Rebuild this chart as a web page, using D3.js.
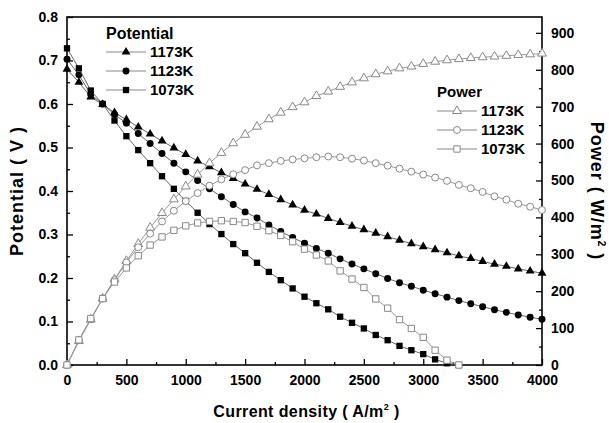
<!DOCTYPE html>
<html>
<head>
<meta charset="utf-8">
<script src="https://cdn.jsdelivr.net/npm/d3@7"></script>
<style>
  body { margin: 0; background: #fff; }
  svg text { font-family: "Liberation Sans", Arial, sans-serif; font-weight: bold; fill: #000; }
</style>
</head>
<body>
<script>
// current density, A/m2
var currentDensity = [0,100,200,300,400,500,600,700,800,900,1000,1100,1200,1300,1400,1500,1600,1700,1800,1900,2000,
  2100,2200,2300,2400,2500,2600,2700,2800,2900,3000,3100,3200,3300,3400,3500,3600,3700,3800,3900,4000];

// potential, V
var potential1173 = [0.680,0.650,0.616,0.599,0.580,0.564,0.547,0.531,0.515,0.499,0.484,0.469,0.456,0.442,0.429,0.416,0.404,0.392,0.380,0.368,0.356,
  0.347,0.337,0.328,0.319,0.311,0.303,0.295,0.287,0.279,0.272,0.265,0.258,0.251,0.245,0.238,0.232,0.227,0.221,0.216,0.211];
var potential1123 = [0.703,0.667,0.622,0.600,0.576,0.556,0.532,0.509,0.486,0.464,0.444,0.424,0.405,0.387,0.369,0.352,0.338,0.322,0.307,0.293,0.280,
  0.268,0.257,0.244,0.232,0.221,0.210,0.199,0.189,0.181,0.172,0.164,0.156,0.148,0.141,0.134,0.127,0.121,0.115,0.110,0.105];
var potential1073 = [0.728,0.682,0.631,0.600,0.562,0.526,0.494,0.464,0.434,0.405,0.377,0.350,0.324,0.301,0.278,0.257,0.235,0.214,0.195,0.176,0.157,
  0.142,0.128,0.111,0.097,0.084,0.069,0.057,0.044,0.034,0.025,0.013,0.004,0.000];

// power, W/m2
var power1173 = [0,65,123,180,232,282,328,372,412,449,484,516,547,575,601,624,646,666,684,699,712,
  729,741,754,766,777,788,796,804,809,816,822,826,829,832,834,836,838,840,842,844];
var power1123 = [0,67,124,180,230,278,319,356,389,418,444,466,486,503,517,528,541,547,553,557,560,
  563,565,563,559,554,547,540,532,524,516,508,499,488,479,469,457,448,437,429,420];
var power1073 = [0,68,126,180,225,263,296,325,347,365,377,385,389,391,389,386,376,364,351,334,314,
  298,282,255,233,210,179,154,123,99,75,40,13,0];

var tempLabels = ["1173K", "1123K", "1073K"];
var xTicks = [0,500,1000,1500,2000,2500,3000,3500,4000];
var vTicks = [0.0,0.1,0.2,0.3,0.4,0.5,0.6,0.7,0.8];
var pTicks = [0,100,200,300,400,500,600,700,800,900];

var width = 609, height = 423;
var margin = {top: 17, right: 67, bottom: 58, left: 67};
var plotW = width - margin.left - margin.right,
    plotH = height - margin.top - margin.bottom;

var svg = d3.select("body").append("svg")
    .attr("width", width)
    .attr("height", height);

var g = svg.append("g")
    .attr("transform", "translate(" + margin.left + "," + margin.top + ")");

var x = d3.scaleLinear().domain([0, 4000]).range([0, plotW]);
var yV = d3.scaleLinear().domain([0, 0.8]).range([plotH, 0]);
var yP = d3.scaleLinear().domain([0, 943]).range([plotH, 0]);

// axes, ticks pointing inward
function styleAxis(sel) {
  sel.select(".domain").remove();
  sel.selectAll("line").attr("stroke", "#000").attr("stroke-width", 1.3);
  sel.selectAll("text").style("font-size", "14px");
}

g.append("g").attr("transform", "translate(0," + plotH + ")")
  .call(d3.axisBottom(x).tickValues(d3.range(250, 4000, 500)).tickSizeInner(-3).tickSizeOuter(0).tickFormat(""))
  .call(styleAxis);
g.append("g").attr("transform", "translate(0," + plotH + ")")
  .call(d3.axisBottom(x).tickValues(xTicks).tickSizeInner(-6).tickSizeOuter(0).tickPadding(10).tickFormat(d3.format("d")))
  .call(styleAxis);

g.append("g")
  .call(d3.axisLeft(yV).tickValues(d3.range(0.05, 0.8, 0.1)).tickSizeInner(-3).tickSizeOuter(0).tickFormat(""))
  .call(styleAxis);
g.append("g")
  .call(d3.axisLeft(yV).tickValues(vTicks).tickSizeInner(-6).tickSizeOuter(0).tickPadding(9).tickFormat(d3.format(".1f")))
  .call(styleAxis);

g.append("g").attr("transform", "translate(" + plotW + ",0)")
  .call(d3.axisRight(yP).tickValues(d3.range(50, 943, 100)).tickSizeInner(-3).tickSizeOuter(0).tickFormat(""))
  .call(styleAxis);
g.append("g").attr("transform", "translate(" + plotW + ",0)")
  .call(d3.axisRight(yP).tickValues(pTicks).tickSizeInner(-6).tickSizeOuter(0).tickPadding(9).tickFormat(d3.format("d")))
  .call(styleAxis);

// frame
g.append("rect")
  .attr("width", plotW).attr("height", plotH)
  .attr("fill", "none").attr("stroke", "#000").attr("stroke-width", 1.6);

// series
var series = [
  {vals: potential1173, y: yV, shape: d3.symbolTriangle, size: 34, filled: true},
  {vals: potential1123, y: yV, shape: d3.symbolCircle, size: 38, filled: true},
  {vals: potential1073, y: yV, shape: d3.symbolSquare, size: 40, filled: true},
  {vals: power1173, y: yP, shape: d3.symbolTriangle, size: 34, filled: false},
  {vals: power1123, y: yP, shape: d3.symbolCircle, size: 38, filled: false},
  {vals: power1073, y: yP, shape: d3.symbolSquare, size: 40, filled: false}
];

function styleMarker(sel, s) {
  sel.attr("d", d3.symbol().type(s.shape).size(s.size))
    .attr("fill", s.filled ? "#000" : "#fff")
    .attr("stroke", s.filled ? "none" : "#888")
    .attr("stroke-width", 1);
}

series.forEach(function(s) {
  var pts = s.vals.map(function(v, i) { return [currentDensity[i], v]; });
  var line = d3.line()
    .x(function(d) { return x(d[0]); })
    .y(function(d) { return s.y(d[1]); });
  g.append("path")
    .datum(pts)
    .attr("d", line)
    .attr("fill", "none")
    .attr("stroke", s.filled ? "#666" : "#999")
    .attr("stroke-width", 1);
  g.selectAll(null)
    .data(pts)
    .enter().append("path")
    .attr("transform", function(d) { return "translate(" + x(d[0]) + "," + s.y(d[1]) + ")"; })
    .call(styleMarker, s);
});

// legends
function legend(title, lx, ly, items, titleSize) {
  var lg = svg.append("g").attr("transform", "translate(" + lx + "," + ly + ")");
  lg.append("text").attr("x", 0).attr("y", 0).attr("dy", "0.35em")
    .style("font-size", titleSize + "px").text(title);
  items.forEach(function(s, i) {
    var yy = 19 * (i + 1);
    lg.append("line").attr("x1", 0).attr("x2", 40).attr("y1", yy).attr("y2", yy)
      .attr("stroke", "#888").attr("stroke-width", 1);
    lg.append("path").attr("transform", "translate(20," + yy + ")").call(styleMarker, s);
    lg.append("text").attr("x", 44).attr("y", yy).attr("dy", "0.35em")
      .style("font-size", "15px").text(tempLabels[i]);
  });
}
legend("Potential", 106, 33, series.slice(0, 3), 16);
legend("Power", 437, 92, series.slice(3, 6), 15);

// axis titles
var xt = svg.append("text")
  .attr("x", margin.left + plotW / 2 + 2).attr("y", 417)
  .attr("text-anchor", "middle").style("font-size", "16px").style("letter-spacing", "0.4px");
xt.append("tspan").text("Current density ( A/m");
xt.append("tspan").attr("dy", "-7").style("font-size", "9px").text("2");
xt.append("tspan").attr("dy", "7").text(" )");

svg.append("text")
  .attr("transform", "translate(23," + (margin.top + plotH / 2) + ") rotate(-90)")
  .attr("text-anchor", "middle").style("font-size", "18px").style("letter-spacing", "1px")
  .text("Potential\u00a0(\u00a0V\u00a0)");

var pt = svg.append("text")
  .attr("transform", "translate(591," + (margin.top + plotH / 2) + ") rotate(90)")
  .attr("text-anchor", "middle").style("font-size", "18px").style("letter-spacing", "1px");
pt.append("tspan").text("Power\u00a0(\u00a0W/m");
pt.append("tspan").attr("dy", "-7").style("font-size", "10px").text("2");
pt.append("tspan").attr("dy", "7").text("\u00a0)");
</script>
</body>
</html>
